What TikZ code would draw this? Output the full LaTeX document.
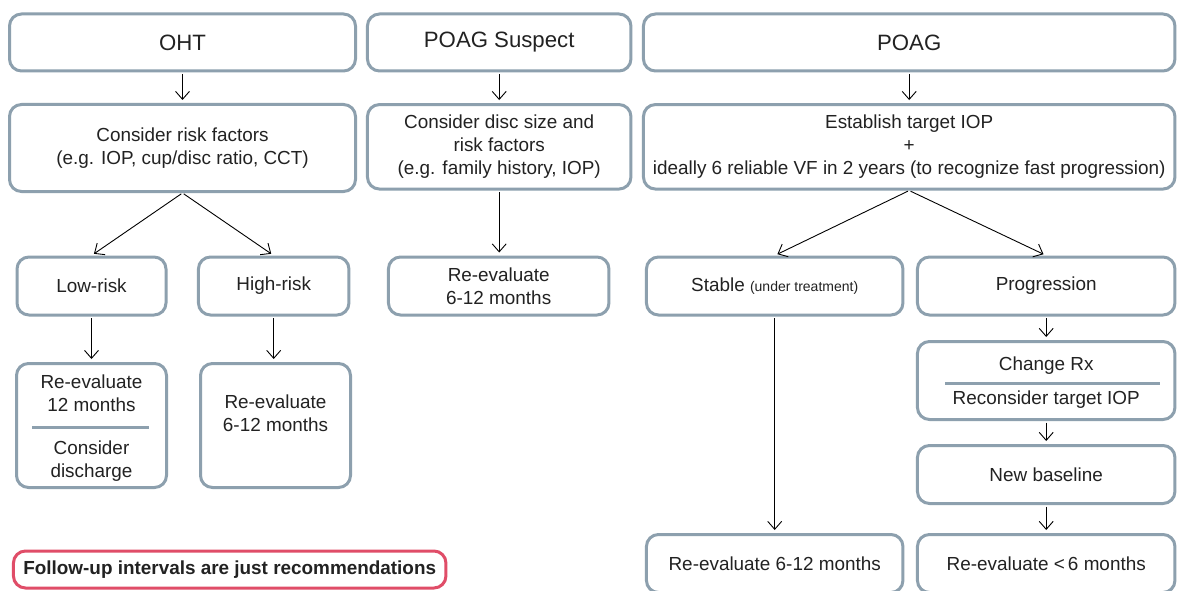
\documentclass[tikz,border=0pt]{standalone}
\usepackage{fontspec}
\setmainfont{Liberation Sans}
\usetikzlibrary{arrows.meta}
\definecolor{bx}{HTML}{8DA0AE}
\definecolor{tx}{HTML}{222222}
\definecolor{rd}{HTML}{E04D68}
\begin{document}
\begin{tikzpicture}[x=1pt,y=-1pt,
  box/.style={draw=bx, line width=3pt, rounded corners=12pt, fill=white, text=tx,
    align=center, inner sep=0pt, font=\fontsize{18.9}{23}\selectfont},
  big/.style={font=\fontsize{22.2}{26}\selectfont},
  txt/.style={text=tx, align=center, inner sep=0pt, font=\fontsize{18.9}{23}\selectfont},
  div/.style={draw=bx, line width=3pt},
  arr/.style={-{Straight Barb[length=8pt,width=14pt]}, line width=0.9pt, black, shorten >=3pt, shorten <=1.5pt},
  note/.style={draw=rd, line width=3pt, rounded corners=12pt, fill=white, text=tx,
    inner sep=0pt, font=\bfseries\fontsize{18.9}{22}\selectfont}]
\clip (0,0) rectangle (1177,591);
\fill[white] (0,0) rectangle (1177,591);
% row 1
\node[box, big, minimum width=346pt, minimum height=57pt] (oht) at (182.5,42.5) {OHT};
\node[box, big, minimum width=263.5pt, minimum height=57pt] (susp) at (499.2,42.5) {POAG Suspect};
\node[box, big, minimum width=531.5pt, minimum height=57pt] (poag) at (909.2,42.5) {POAG};
% row 2
\node[box, minimum width=346pt, minimum height=87pt] (risk) at (182.5,148) {Consider risk factors\\(e.g. IOP, cup/disc ratio, CCT)};
\node[box, minimum width=263.5pt, minimum height=84.5pt] (disc) at (499.2,146.8) {Consider disc size and\\risk factors\\(e.g. family history, IOP)};
\node[box, minimum width=531.5pt, minimum height=84.5pt] (target) at (909.2,146.8) {Establish target IOP\\+\\ideally 6 reliable VF in 2 years (to recognize fast progression)};
% row 3
\node[box, minimum width=149pt, minimum height=58pt] (low) at (91.5,286) {Low-risk};
\node[box, minimum width=150.5pt, minimum height=58pt] (high) at (273.7,286) {High-risk};
\node[box, minimum width=220.5pt, minimum height=58pt] (rs) at (498.7,286) {Re-evaluate\\6-12 months};
\node[box, minimum width=256.5pt, minimum height=58pt] (stable) at (774.7,286) {Stable {\fontsize{14}{16}\selectfont (under treatment)}};
\node[box, minimum width=257.5pt, minimum height=58pt] (prog) at (1046.2,286) {Progression};
% row 4 left
\node[box, minimum width=150pt, minimum height=124pt] (low2) at (91.5,425.5) {};
\node[txt] (low2a) at (91.5,393.5) {Re-evaluate\\12 months};
\node[txt] (low2b) at (91.5,461) {Consider\\discharge};
\draw[div] (32,427) -- (149,427);
\node[box, minimum width=150pt, minimum height=124pt] (high2) at (275.5,425.5) {Re-evaluate\\6-12 months\\[2pt]};
% right column
\node[box, minimum width=257.5pt, minimum height=78pt] (chg) at (1046.2,380.5) {};
\node[txt] (chga) at (1046.2,366) {Change Rx};
\node[txt] (chgb) at (1046.2,400) {Reconsider target IOP};
\draw[div] (945,383) -- (1160,383);
\node[box, minimum width=257.5pt, minimum height=58pt] (nb) at (1046.2,474.5) {New baseline};
\node[box, minimum width=257.5pt, minimum height=58pt] (r6) at (1046.2,563.5) {Re-evaluate {<}\,6 months};
\node[box, minimum width=256.5pt, minimum height=58pt] (r612) at (774.7,563.5) {Re-evaluate 6-12 months};
% note
\node[note, minimum width=432.5pt, minimum height=37pt] (nt) at (229.7,569.5) {Follow-up intervals are just recommendations};
% arrows
\draw[arr] (oht.south) -- (risk.north);
\draw[arr] (susp.south) -- (disc.north);
\draw[arr] (poag.south) -- (target.north);
\draw[arr] (risk.south) -- (low.north);
\draw[arr] (risk.south) -- (high.north);
\draw[arr] (disc.south) -- (disc.south |- rs.north);
\draw[arr] (target.south) -- (stable.north);
\draw[arr] (target.south) -- (prog.north);
\draw[arr] (low.south) -- (low2.north);
\draw[arr] (high.south) -- (high.south |- high2.north);
\draw[arr] (stable.south) -- (r612.north);
\draw[arr] (prog.south) -- (chg.north);
\draw[arr] (chg.south) -- (nb.north);
\draw[arr] (nb.south) -- (r6.north);
\end{tikzpicture}
\end{document}
